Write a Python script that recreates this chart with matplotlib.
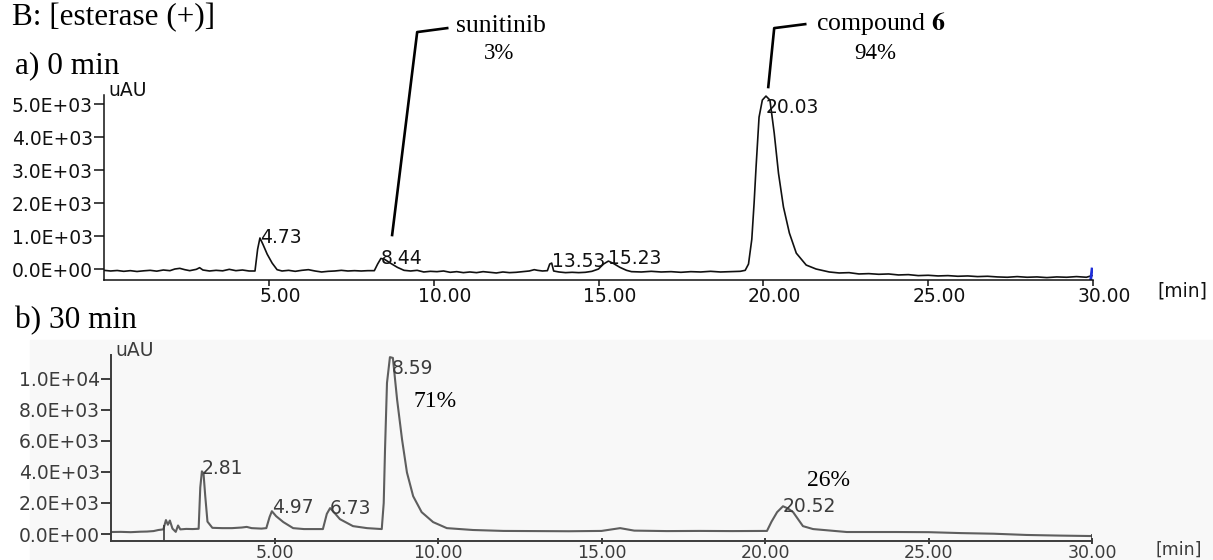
import numpy as np
import matplotlib.pyplot as plt
from matplotlib.patches import Rectangle
from matplotlib.transforms import ScaledTranslation

# --- cromatogramma a) 0 min (tempo in min, segnale in uAU) ---
time_a = [0.0, 0.2, 0.4, 0.6, 0.8, 1.0, 1.2, 1.4, 1.6, 1.8, 2.0, 2.15, 2.3, 2.45, 2.6, 2.8, 2.9,
          3.0, 3.2, 3.4, 3.6, 3.8, 4.0, 4.2, 4.4, 4.58, 4.66, 4.73, 4.82, 4.95, 5.1, 5.25, 5.4,
          5.6, 5.8, 6.0, 6.2, 6.4, 6.6, 6.8, 7.0, 7.2, 7.4, 7.6, 7.8, 8.0, 8.2, 8.3, 8.4, 8.5,
          8.7, 8.9, 9.1, 9.3, 9.5, 9.7, 9.9, 10.1, 10.3, 10.5, 10.7, 10.9, 11.1, 11.3, 11.5,
          11.7, 11.9, 12.1, 12.3, 12.5, 12.7, 12.9, 13.05, 13.15, 13.3, 13.45, 13.52, 13.58,
          13.64, 13.8, 14.0, 14.2, 14.4, 14.6, 14.8, 15.0, 15.15, 15.3, 15.45, 15.65, 15.85,
          16.0, 16.3, 16.6, 16.9, 17.2, 17.5, 17.8, 18.1, 18.4, 18.7, 19.0, 19.3, 19.45, 19.55,
          19.65, 19.72, 19.78, 19.87, 19.97, 20.08, 20.2, 20.33, 20.46, 20.61, 20.79, 21.0,
          21.3, 21.6, 22.0, 22.3, 22.6, 22.9, 23.2, 23.5, 23.8, 24.1, 24.4, 24.7, 25.0, 25.3,
          25.6, 25.9, 26.2, 26.5, 26.8, 27.1, 27.4, 27.7, 28.0, 28.3, 28.6, 28.9, 29.2, 29.5,
          29.8, 29.97]
signal_a = [-40, -60, -45, -70, -50, -75, -55, -40, -65, -30, -50, 0, 20, -20, -50, -10, 40,
            -30, -60, -40, -55, -10, -50, -30, -60, -60, 600, 940, 750, 450, 180, -20, -60,
            -40, -70, -40, -20, -60, -90, -70, -60, -40, -60, -50, -60, -50, -50, 150, 320, 300,
            170, 50, -40, -60, -40, -90, -70, -80, -60, -100, -80, -110, -90, -110, -80,
            -100, -120, -90, -110, -100, -80, -60, -20, -40, -60, -50, 150, 180,
            -60, -90, -110, -100, -110, -100, -70, 0, 150, 240, 170, 50, -40,
            -80, -90, -70, -90, -80, -100, -80, -90, -70, -90, -80, -70, -40, 150,
            900, 2000, 3100, 4600, 5120, 5240, 5120, 4120, 2900, 1880, 1090, 480,
            120, 0, -90, -120, -110, -150, -140, -160, -150, -180, -170, -200, -190, -210,
            -200, -220, -210, -230, -220, -240, -250, -230, -250, -240, -260, -240, -250, -230,
            -250, -200]
peaks_a = [4.73, 8.4, 13.58, 15.3, 20.08]
peak_labels_a = ['4.73', '8.44', '13.53', '15.23', '20.03']

# --- cromatogramma b) 30 min ---
time_b = [0.0, 0.3, 0.6, 0.9, 1.1, 1.3, 1.45, 1.6, 1.68, 1.74, 1.8, 1.88, 1.98, 2.05, 2.12,
          2.3, 2.5, 2.68, 2.73, 2.78, 2.83, 2.88, 2.95, 3.1, 3.4, 3.7, 4.0, 4.15, 4.3, 4.6,
          4.75, 4.85, 4.92, 5.05, 5.27, 5.57, 5.9, 6.2, 6.48, 6.6, 6.7, 6.82, 7.0, 7.4, 7.83,
          8.28, 8.34, 8.38, 8.44, 8.53, 8.62, 8.75, 8.9, 9.05, 9.24, 9.5, 9.85, 10.27, 11.07,
          12.0, 13.0, 14.0, 15.0, 15.57, 16.0, 17.0, 18.0, 19.0, 20.06, 20.2, 20.37, 20.55,
          20.7, 20.86, 21.16, 21.47, 22.5, 24.0, 25.0, 26.0, 27.0, 28.0, 29.0, 30.0]
signal_b = [130, 140, 120, 150, 160, 190, 260, 300, 900, 600, 870, 350, 140, 550, 300,
            330, 320, 340, 3000, 4040, 3900, 2500, 800, 400, 380, 380, 420, 460, 380, 350,
            380, 1100, 1470, 1150, 770, 380, 320, 320, 320, 1300, 1670, 1400, 960, 510, 380,
            320, 2000, 5450, 9740, 11400, 11350, 8650, 6100, 3970, 2440, 1410, 770, 380, 260,
            200, 190, 180, 200, 380, 220, 190, 200, 190, 200, 800, 1410, 1790,
            1650, 1410, 510, 320, 130, 130, 120, 60, 20, -60, -100, -130]
peaks_b = [2.78, 4.92, 6.7, 8.59, 20.55]
peak_labels_b = ['2.81', '4.97', '6.73', '8.59', '20.52']
marks_b = [1.62, 30.0]

fig = plt.figure(figsize=(12.13, 5.6), dpi=100)
fig.patches.append(Rectangle((0.025, 0), 0.975, 1 - 340 / 560, transform=fig.transFigure,
                             color='#f8f8f8', zorder=-5))

ax_a = fig.add_axes([104 / 1213, 0.5, 989 / 1213, 185 / 560])
ax_b = fig.add_axes([111 / 1213, 19 / 560, 981 / 1213, 186 / 560])
ax_a.set_zorder(2)
ax_b.set_zorder(2)
ax_b.set_facecolor('none')
shift = ScaledTranslation(11 / 100, 0, fig.dpi_scale_trans)


def style_axis(ax, col, yticks, ylim, lw, xsize, min_dy):
    ax.set_xlim(0, 30)
    ax.set_ylim(*ylim)
    for s in ['top', 'right']:
        ax.spines[s].set_visible(False)
    for s in ['left', 'bottom']:
        ax.spines[s].set_color(col)
        ax.spines[s].set_linewidth(lw)
    ax.set_xticks([5, 10, 15, 20, 25, 30])
    ax.set_xticklabels(['%.2f' % v for v in [5, 10, 15, 20, 25, 30]])
    ax.set_yticks(yticks)
    ax.set_yticklabels(['%.1E' % v for v in yticks])
    ax.tick_params(axis='y', length=7, width=lw, pad=1, colors=col, labelsize=13.5)
    ax.tick_params(axis='x', length=4, width=lw, pad=1, colors=col, labelsize=xsize)
    for lab in ax.get_xticklabels():
        lab.set_transform(lab.get_transform() + shift)
    ax.annotate('uAU', xy=(0, 1), xycoords='axes fraction', xytext=(3, 3),
                textcoords='offset points', fontsize=13.5, color=col, va='center')
    ax.annotate('[min]', xy=(1, 0), xycoords='axes fraction', xytext=(46, min_dy),
                textcoords='offset points', fontsize=xsize, color=col, va='center')


# pannello a
ax_a.plot(time_a, signal_a, color='#111111', lw=1.2)
style_axis(ax_a, '#111111', [0, 1000, 2000, 3000, 4000, 5000], (-333, 5273), 1.1, 13.5, -8)
ax_a.plot([time_a[-1] - 0.04, time_a[-1]], [-330, 0], color='#1f2fd8', lw=2)
dy_a = [0, 0, 1, 2, -8]
for t, lab, dy in zip(peaks_a, peak_labels_a, dy_a):
    ax_a.annotate(lab, (t, np.interp(t, time_a, signal_a)), xytext=(0, dy),
                  textcoords='offset points', fontsize=13.5, va='center', color='#111111')

serif = 'Liberation Serif'
ax_a.plot([10.41, 9.50, 8.74], [7300, 7180, 1030], color='black', lw=1.9, clip_on=False)
ax_a.plot([21.27, 20.33, 20.15], [7420, 7300, 5515], color='black', lw=1.9, clip_on=False)
ax_a.text(12.05, 7180, 'sunitinib', family=serif, fontsize=18.5, ha='center', va='baseline')
ax_a.text(11.98, 6360, '3%', family=serif, fontsize=16.5, ha='center', va='baseline')
ax_a.text(23.57, 7240, r'compound $\mathbf{6}$', family=serif, fontsize=18.5, ha='center',
          va='baseline', math_fontfamily='stix')
ax_a.text(23.39, 6360, '94%', family=serif, fontsize=16.5, ha='center', va='baseline')

# pannello b
ax_b.plot(time_b, signal_b, color='#5e5e5e', lw=1.5)
style_axis(ax_b, '#3c3c3c', [0, 2000, 4000, 6000, 8000, 10000], (-449, 11538), 1.4, 12.5, -6)
ax_b.tick_params(axis='x', direction='inout', length=4, pad=0)
ax_b.vlines(marks_b, -449, [np.interp(m, time_b, signal_b) + 100 for m in marks_b],
            color='#3c3c3c', lw=1.2)
dy_b = [2, 3, 0, -8, 0]
for t, lab, dy in zip(peaks_b, peak_labels_b, dy_b):
    ax_b.annotate(lab, (t, np.interp(t, time_b, signal_b)), xytext=(0, dy),
                  textcoords='offset points', fontsize=13.5, va='center', color='#3c3c3c')
ax_b.text(9.24, 8200, '71%', family=serif, fontsize=17, va='baseline')
ax_b.text(21.28, 3080, '26%', family=serif, fontsize=17, va='baseline')

fig.text(12 / 1213, 1 - 25 / 560, 'B: [esterase (+)]', family=serif, fontsize=22.5, va='baseline')
fig.text(15 / 1213, 1 - 73 / 560, 'a) 0 min', family=serif, fontsize=22.5, va='baseline')
fig.text(15 / 1213, 1 - 328 / 560, 'b) 30 min', family=serif, fontsize=22.5, va='baseline')

fig.savefig('out.png', dpi=100)
